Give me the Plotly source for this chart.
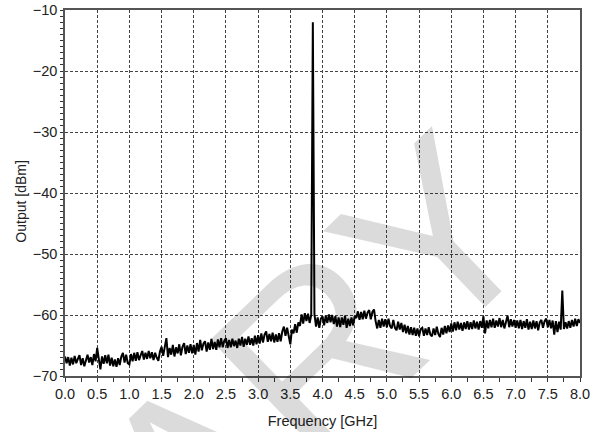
import plotly.graph_objects as go

# Spectrum sweep: 0.0 .. 8.0 GHz, 0.025 GHz step
FREQ_START_GHZ = 0.0
FREQ_STEP_GHZ = 0.025

output_dbm = [
    # 0.0 - 0.475
    -66.8, -67.9, -66.9, -68.3, -67.0, -68.1, -66.7, -67.9, -67.2, -66.6,
    -68.2, -67.1, -68.4, -67.4, -66.5, -67.8, -66.9, -68.2, -66.4, -67.6,
    # 0.5 - 0.975
    -65.4, -67.2, -68.9, -66.8, -68.0, -66.6, -67.9, -66.5, -68.3, -67.0,
    -68.4, -67.3, -68.5, -67.1, -68.2, -66.8, -66.2, -67.8, -66.5, -67.9,
    # 1.0 - 1.475
    -68.1, -66.4, -67.6, -66.2, -67.5, -66.1, -67.4, -66.6, -65.9, -67.3,
    -66.2, -67.2, -65.9, -67.1, -66.1, -67.4, -66.2, -67.0, -67.5, -66.0,
    # 1.5 - 1.975
    -65.2, -66.7, -65.1, -63.8, -66.9, -65.4, -66.5, -64.9, -66.8, -65.3,
    -66.3, -64.8, -66.6, -65.2, -64.6, -66.4, -65.0, -66.2, -64.8, -66.3,
    # 2.0 - 2.475
    -64.9, -66.5, -64.6, -66.0, -64.1, -65.8, -64.7, -64.3, -66.0, -64.5,
    -65.7, -63.9, -65.6, -64.4, -65.7, -64.0, -65.3, -63.8, -65.3, -64.2,
    # 2.5 - 2.975
    -63.8, -65.4, -64.1, -65.3, -63.9, -65.1, -64.2, -65.4, -63.9, -65.0,
    -63.6, -65.2, -63.9, -64.9, -63.5, -64.9, -63.8, -65.0, -63.4, -64.8,
    # 3.0 - 3.475
    -63.3, -64.7, -63.0, -64.5, -63.2, -62.7, -64.4, -63.1, -64.3, -62.9,
    -64.5, -63.2, -64.4, -63.0, -64.3, -62.7, -61.9, -63.4, -62.1, -63.7,
    # 3.5 - 3.975 (carrier at 3.85 GHz)
    -64.8, -62.4, -63.0, -61.5, -62.9, -61.2, -61.8, -59.9, -61.4, -59.7,
    -61.0, -59.8, -61.3, -60.0, -12.0, -59.9, -61.9, -60.4, -62.1, -60.6,
    # 4.0 - 4.475
    -60.2, -61.7, -60.1, -61.3, -59.9, -61.2, -60.0, -61.5, -60.2, -61.9,
    -60.4, -62.0, -60.4, -61.6, -60.1, -62.1, -60.6, -61.8, -60.4, -61.7,
    # 4.5 - 4.975
    -60.2, -60.5, -59.4, -60.8, -59.5, -60.7, -59.3, -60.6, -59.6, -59.2,
    -60.7, -59.5, -59.1, -61.0, -62.2, -60.8, -62.1, -60.6, -61.9, -60.7,
    # 5.0 - 5.475
    -62.0, -60.6, -61.8, -62.2, -60.8, -62.1, -62.5, -61.1, -62.4, -61.3,
    -62.8, -61.6, -63.0, -61.8, -63.2, -62.0, -63.3, -62.1, -63.4, -62.2,
    # 5.5 - 5.975
    -63.5, -62.3, -62.1, -63.4, -62.2, -63.3, -62.0, -63.2, -63.5, -62.2,
    -63.3, -61.9, -63.1, -63.6, -62.1, -63.2, -61.8, -63.0, -61.7, -62.8,
    # 6.0 - 6.475
    -61.4, -62.7, -61.2, -62.5, -61.1, -62.4, -61.3, -62.6, -61.2, -62.3,
    -61.0, -62.4, -61.2, -62.3, -60.9, -62.2, -61.1, -62.4, -61.0, -62.1,
    # 6.5 - 6.975
    -60.2, -63.0, -60.9, -62.2, -60.8, -62.0, -60.6, -62.1, -60.9, -61.9,
    -60.5, -62.0, -60.8, -62.2, -60.9, -60.1, -62.0, -60.7, -61.9, -60.8,
    # 7.0 - 7.475
    -62.1, -60.9, -62.2, -60.8, -62.3, -61.0, -62.1, -60.7, -62.4, -61.1,
    -62.3, -60.9, -62.2, -61.0, -62.5, -61.2, -60.8, -62.1, -61.0, -60.6,
    # 7.5 - 7.975 (spur at 7.725 GHz)
    -62.0, -60.8, -62.2, -60.9, -63.2, -61.0, -62.8, -61.1, -62.4, -56.0,
    -62.3, -61.2, -62.2, -61.0, -62.1, -60.8, -61.9, -60.6, -61.8, -60.7,
    # 8.0
    -61.3,
]

x_tick_vals = [0.0, 0.5, 1.0, 1.5, 2.0, 2.5, 3.0, 3.5, 4.0, 4.5, 5.0, 5.5, 6.0, 6.5, 7.0, 7.5, 8.0]
x_tick_text = ["0.0", "0.5", "1.0", "1.5", "2.0", "2.5", "3.0", "3.5", "4.0", "4.5",
               "5.0", "5.5", "6.0", "6.5", "7.0", "7.5", "8.0"]
y_tick_vals = [-70, -60, -50, -40, -30, -20, -10]
y_tick_text = ["\u221270", "\u221260", "\u221250", "\u221240", "\u221230", "\u221220", "\u221210"]

x_title = "Frequency [GHz]"
y_title = "Output [dBm]"
watermark_text = "PRELIMINARY"

freq_ghz = [round(FREQ_START_GHZ + i * FREQ_STEP_GHZ, 4) for i in range(len(output_dbm))]

FONT = "Liberation Sans, Arial, Helvetica, sans-serif"
TEXT_COLOR = "#222222"

fig = go.Figure()
fig.add_trace(go.Scatter(
    x=freq_ghz, y=output_dbm, mode="lines",
    line=dict(color="black", width=2.0),
    showlegend=False, hoverinfo="skip",
))

grid = dict(showgrid=True, gridcolor="#444444", gridwidth=1, griddash="3px,2px")
fig.update_xaxes(
    range=[0, 8], tickvals=x_tick_vals, ticktext=x_tick_text,
    ticks="outside", ticklen=4, tickwidth=1, tickcolor="#333333",
    minor=dict(dtick=0.25, ticks="outside", ticklen=4, tickcolor="#333333", showgrid=False),
    showline=True, linecolor="#555555", linewidth=1.5, mirror=True,
    zeroline=False, automargin=False,
    tickfont=dict(family=FONT, size=14.5, color=TEXT_COLOR),
    title=dict(text=x_title, font=dict(family=FONT, size=14.5, color=TEXT_COLOR)),
    **grid,
)
fig.update_yaxes(
    range=[-70, -10], tickvals=y_tick_vals, ticktext=y_tick_text,
    ticks="outside", ticklen=3, tickwidth=1, tickcolor="#333333",
    minor=dict(dtick=1, ticks="outside", ticklen=3, tickcolor="#333333", showgrid=False),
    showline=True, linecolor="#555555", linewidth=1.5, mirror=True,
    zeroline=False, automargin=False,
    tickfont=dict(family=FONT, size=14.5, color=TEXT_COLOR),
    **grid,
)

# y-axis title placed as rotated text to match the reference position
fig.add_annotation(
    text=y_title, xref="paper", yref="paper",
    x=-0.085, y=0.477, xanchor="center", yanchor="middle",
    textangle=-90, showarrow=False,
    font=dict(family=FONT, size=14, color=TEXT_COLOR),
)

# light watermark
fig.add_annotation(
    text=watermark_text, xref="paper", yref="paper",
    x=-0.316, y=-1.03, xanchor="center", yanchor="middle",
    textangle=-44, showarrow=False,
    font=dict(family=FONT, size=243, color="rgba(0,0,0,0.14)"),
)

fig.update_layout(
    width=601, height=432,
    margin=dict(l=65, r=21, t=10, b=56, autoexpand=False),
    paper_bgcolor="white", plot_bgcolor="white",
)

fig.write_html(
    "out.html",
    config={"displayModeBar": False},
    post_script="document.body.style.margin='0';",
)
